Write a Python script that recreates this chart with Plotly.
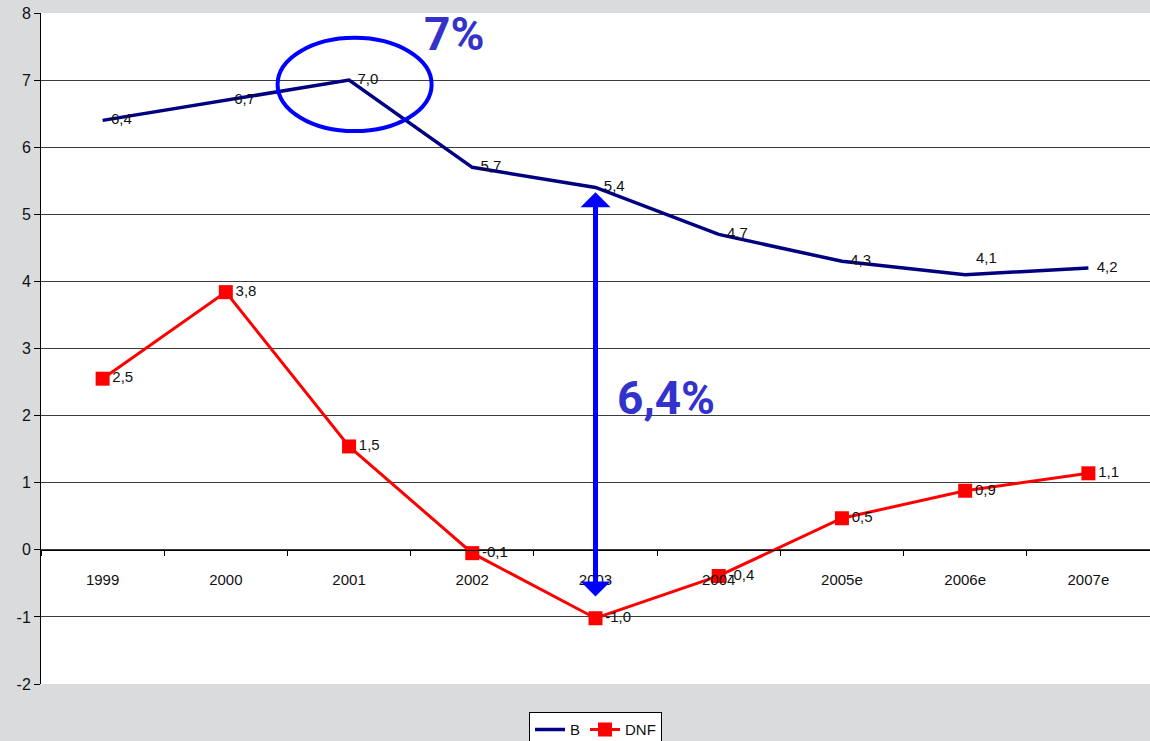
import plotly.graph_objects as go

years = ["1999", "2000", "2001", "2002", "2003", "2004", "2005e", "2006e", "2007e"]
b_values = [6.4, 6.7, 7.0, 5.7, 5.4, 4.7, 4.3, 4.1, 4.2]
dnf_values = [2.55, 3.84, 1.54, -0.05, -1.02, -0.39, 0.47, 0.88, 1.14]
y_ticks = [-2, -1, 0, 1, 2, 3, 4, 5, 6, 7, 8]
y_tick_text = ["-2", "-1", "0", "1", "2", "3", "4", "5", "6", "7", "8"]

NB = "\u00a0"
LABEL_FONT = dict(family="Liberation Sans, Arial", size=15, color="#111111")


def fmt(v):
    return f"{v:.1f}".replace(".", ",")


# B labels: all to the right except 2006e, which sits above-right (added below)
b_text = [NB * 2 + fmt(v) for v in b_values]
b_text[7] = ""

fig = go.Figure()
fig.add_trace(go.Scatter(
    x=years, y=b_values, name="B", mode="lines+text",
    line=dict(color="#000080", width=3.5),
    text=b_text, textposition="middle right",
    textfont=LABEL_FONT, cliponaxis=False,
))
fig.add_trace(go.Scatter(
    x=years, y=dnf_values, name="DNF", mode="lines+markers+text",
    line=dict(color="#ff0000", width=3),
    marker=dict(symbol="square", size=14, color="#ff0000"),
    text=[fmt(v) for v in dnf_values], textposition="middle right",
    textfont=LABEL_FONT, cliponaxis=False,
))

fig.add_annotation(x=years[7], y=b_values[7], text=fmt(b_values[7]), showarrow=False,
                   xanchor="left", yanchor="middle", xshift=9, yshift=17,
                   font=LABEL_FONT)

# Ellipse around 2001 peak
fig.add_shape(type="circle", xref="x", yref="y", x0=1.42, x1=2.67, y0=6.24, y1=7.63,
              line=dict(color="#0000ff", width=4))

# Double arrow at 2003
fig.add_annotation(x=4, y=5.33, ax=4, ay=-0.72, xref="x", yref="y", axref="x", ayref="y",
                   text="", showarrow=True, arrowside="end+start",
                   arrowhead=1, startarrowhead=1, arrowsize=1, startarrowsize=1,
                   arrowwidth=5, arrowcolor="#0000ff")

fig.add_annotation(x=2.85, y=7.69, xref="x", yref="y", text="<b>7%</b>", showarrow=False,
                   font=dict(family="Roboto", size=46, color="#3333cc"))
fig.add_annotation(x=4.57, y=2.26, xref="x", yref="y", text="<b>6,4%</b>", showarrow=False,
                   font=dict(family="Roboto", size=46, color="#3333cc"))

fig.update_layout(
    width=1150, height=741,
    margin=dict(l=41, r=0, t=13, b=57, autoexpand=False),
    paper_bgcolor="#dadbdd", plot_bgcolor="#ffffff",
    font=dict(family="Liberation Sans, Arial", color="#111111"),
    showlegend=True,
    legend=dict(orientation="h", x=0.5, xanchor="center", y=-0.042, yanchor="top",
                bgcolor="#ffffff", bordercolor="#000000", borderwidth=1,
                font=dict(size=15), itemwidth=30, tracegroupgap=0),
    xaxis=dict(type="category", range=[-0.5, 8.5], anchor="free", position=0.2,
               showline=True, linecolor="#000000", linewidth=1,
               ticks="outside", tickson="boundaries", ticklen=5, tickcolor="#000000",
               showgrid=False, zeroline=False, ticklabelstandoff=16,
               tickfont=dict(size=15, color="#111111")),
    yaxis=dict(range=[-2, 8], tickvals=y_ticks, ticktext=y_tick_text,
               showgrid=True, gridcolor="#3c3c3c",
               gridwidth=1, showline=True, linecolor="#000000", linewidth=1,
               ticks="outside", ticklen=6, tickcolor="#000000", zeroline=False,
               tickfont=dict(size=16, color="#111111")),
)

fig.write_html("out.html", config={"displayModeBar": False},
               post_script="document.body.style.margin='0';")
